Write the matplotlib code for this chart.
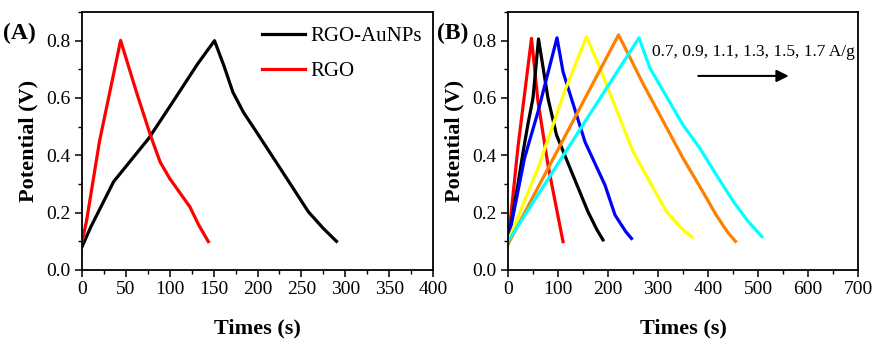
import matplotlib
matplotlib.use("Agg")
import matplotlib.pyplot as plt
from matplotlib.ticker import MultipleLocator

# ---------------- data ----------------
# Panel A
rgo_au_t = [0, 10, 36, 76, 100, 132, 151, 162, 172, 184, 200, 226, 258, 275, 290]
rgo_au_v = [0.081, 0.15, 0.308, 0.459, 0.57, 0.72, 0.80, 0.71, 0.62, 0.55, 0.476, 0.354, 0.203, 0.145, 0.10]
rgo_t = [0, 5, 20, 44, 62, 78, 89, 100, 123, 133, 144]
rgo_v = [0.099, 0.168, 0.45, 0.801, 0.621, 0.47, 0.377, 0.319, 0.22, 0.157, 0.099]
legend_labels = ["RGO-AuNPs", "RGO"]

# Panel B (0.7 ... 1.7 A/g)
b_red_t = [0, 20, 47, 60, 80, 93, 110]
b_red_v = [0.093, 0.43, 0.808, 0.587, 0.366, 0.25, 0.099]
b_black_t = [0, 10, 20, 30, 40, 50, 61, 80, 97, 127, 160, 178, 190]
b_black_v = [0.10, 0.20, 0.30, 0.41, 0.51, 0.60, 0.806, 0.599, 0.471, 0.343, 0.203, 0.14, 0.105]
b_blue_t = [0, 33, 60, 98, 110, 154, 194, 214, 235, 247]
b_blue_v = [0.10, 0.39, 0.552, 0.81, 0.692, 0.447, 0.296, 0.192, 0.135, 0.11]
b_yellow_t = [0, 60, 113, 157, 184, 250, 317, 350, 368]
b_yellow_v = [0.10, 0.355, 0.622, 0.814, 0.704, 0.413, 0.203, 0.14, 0.115]
b_orange_t = [0, 221, 240, 270, 310, 350, 384, 417, 440, 455]
b_orange_v = [0.09, 0.82, 0.755, 0.65, 0.52, 0.39, 0.29, 0.19, 0.13, 0.10]
b_cyan_t = [0, 262, 284, 350, 384, 417, 451, 480, 508]
b_cyan_v = [0.10, 0.81, 0.704, 0.506, 0.424, 0.331, 0.238, 0.17, 0.116]
b_colors = ["#ff0000", "#000000", "#0000ff", "#ffff00", "#ff8000", "#00ffff"]
b_annotation = "0.7, 0.9, 1.1, 1.3, 1.5, 1.7 A/g"

# ---------------- style ----------------
plt.rcParams["font.family"] = ["Liberation Serif", "DejaVu Serif"]

fig = plt.figure(figsize=(8.8, 3.46), dpi=100)
axA = fig.add_axes([82 / 880, 76 / 346, 351 / 880, 258 / 346])
axB = fig.add_axes([508 / 880, 76 / 346, 350 / 880, 258 / 346])

LW = 2.3


def style(ax, xmax, xmajor, xminor):
    ax.set_xlim(0, xmax)
    ax.set_ylim(0, 0.9)
    ax.xaxis.set_major_locator(MultipleLocator(xmajor))
    ax.xaxis.set_minor_locator(MultipleLocator(xminor))
    ax.yaxis.set_minor_locator(MultipleLocator(0.1))
    ax.set_yticks([0, 0.2, 0.4, 0.6, 0.8])
    ax.set_yticklabels(["0.0", "0.2", "0.4", "0.6", "0.8"])
    ax.tick_params(which="major", direction="out", length=5, width=1.1,
                   labelsize=14, pad=3)
    ax.tick_params(which="minor", direction="out", length=3, width=1.0)
    ax.tick_params(top=False, right=False)
    for s in ax.spines.values():
        s.set_linewidth(1.3)
    ax.set_xlabel("Times (s)", fontsize=16, fontweight="bold", labelpad=15)
    ax.set_ylabel("Potential (V)", fontsize=16, fontweight="bold", labelpad=6)


style(axA, 400, 50, 25)
style(axB, 700, 100, 50)

# Panel A
axA.plot(rgo_au_t, rgo_au_v, color="black", lw=LW, label=legend_labels[0])
axA.plot(rgo_t, rgo_v, color="#ff0000", lw=LW, label=legend_labels[1])
axA.legend(loc="upper left", bbox_to_anchor=(0.476, 0.993), frameon=False,
           fontsize=15, handlelength=2.1, handletextpad=0.25,
           labelspacing=0.75, borderaxespad=0.2)

# Panel B
series_b = [(b_red_t, b_red_v), (b_black_t, b_black_v), (b_blue_t, b_blue_v),
            (b_yellow_t, b_yellow_v), (b_orange_t, b_orange_v), (b_cyan_t, b_cyan_v)]
for (t, v), c in zip(series_b, b_colors):
    axB.plot(t, v, color=c, lw=LW)

axB.text(287, 0.76, b_annotation, fontsize=12.5, ha="left", va="center")
axB.annotate("", xy=(567, 0.677), xytext=(375, 0.677),
             arrowprops=dict(arrowstyle="-|>", color="black", lw=1.5,
                             mutation_scale=18))

fig.text(3 / 880, 1 - 33.5 / 346, "(A)", fontsize=17, fontweight="bold",
         ha="left", va="center")
fig.text(437 / 880, 1 - 33.5 / 346, "(B)", fontsize=17, fontweight="bold",
         ha="left", va="center")

fig.savefig("out.png", dpi=100)
